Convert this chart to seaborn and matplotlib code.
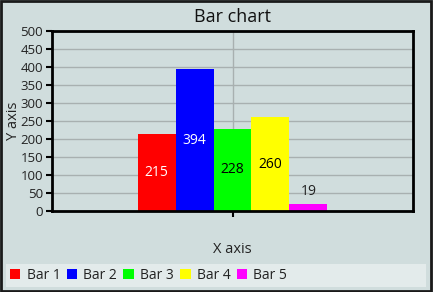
import matplotlib
matplotlib.use("Agg")
import matplotlib.pyplot as plt
from matplotlib.patches import Rectangle, Patch
import pandas as pd
import seaborn as sns

# Chart data
series_names = ["Bar 1", "Bar 2", "Bar 3", "Bar 4", "Bar 5"]
series_values = [215, 394, 228, 260, 19]
series_colors = ["#FF0000", "#0000FF", "#00FF00", "#FFFF00", "#FF00FF"]
label_colors = ["white", "white", "black", "black", "#222222"]
y_ticks = [0, 50, 100, 150, 200, 250, 300, 350, 400, 450, 500]

BG = "#D0DDDD"
LEGEND_BG = "#E3EBEB"

df = pd.DataFrame({"group": [""] * len(series_names),
                   "series": series_names,
                   "value": series_values})

sns.set_theme(style="white")
plt.rcParams["font.family"] = ["Open Sans", "DejaVu Sans"]

fig = plt.figure(figsize=(4.33, 2.92), dpi=100, facecolor=BG)
ax = fig.add_axes([52 / 433, 81 / 292, 361 / 433, 180 / 292])
ax.set_facecolor(BG)

sns.barplot(data=df, x="group", y="value", hue="series",
            palette=series_colors, hue_order=series_names,
            width=0.525, dodge=True, saturation=1, ax=ax,
            linewidth=0, legend=True)

ax.set_xlim(-0.5, 0.5)
ax.set_ylim(0, 500)
ax.set_yticks(y_ticks)
ax.set_yticklabels([str(t) for t in y_ticks], fontsize=9.5, color="#222222")
ax.set_xticks([0])
ax.set_xticklabels([""])
ax.grid(True, color="#A8B0B0", linewidth=1)
ax.set_axisbelow(True)
ax.tick_params(axis="y", direction="out", length=4, width=1.5, color="black", pad=2.5, left=True)
ax.tick_params(axis="x", direction="out", length=4, width=1.5, color="black", bottom=True)
for sp in ax.spines.values():
    sp.set_color("black")
    sp.set_linewidth(2)

# value labels
for cont, col, val in zip(ax.containers, label_colors, series_values):
    if val < 50:
        ax.bar_label(cont, labels=[str(val)], label_type="edge", padding=4,
                     color=col, fontsize=10)
    else:
        ax.bar_label(cont, labels=[str(val)], label_type="center",
                     color=col, fontsize=10)

ax.set_title("Bar chart", fontsize=13, color="#111111", y=1.075, va="center", pad=0)
ax.set_xlabel("X axis", fontsize=10.5, color="#222222")
ax.xaxis.set_label_coords(0.5, -0.215)
ax.xaxis.label.set_va("center")
ax.set_ylabel("Y axis", fontsize=10.5, color="#222222")
ax.yaxis.set_label_coords(-0.106, 0.5)
ax.yaxis.label.set_va("center")

# legend strip along the bottom
ax.get_legend().remove()
fig.patches.append(Rectangle((6 / 433, 5 / 292), 420 / 433, 23 / 292,
                             transform=fig.transFigure, facecolor=LEGEND_BG,
                             edgecolor="none", zorder=0))
handles = [Patch(facecolor=c, edgecolor="none") for c in series_colors]
fig.legend(handles, series_names, loc="center left",
           bbox_to_anchor=(10 / 433, 16.5 / 292), ncol=5, frameon=False,
           borderpad=0, borderaxespad=0,
           fontsize=10, handlelength=0.75, handleheight=0.75,
           handletextpad=0.45, columnspacing=0.45, labelcolor="#222222")

# outer frame
fig.patches.append(Rectangle((0.002, 0.003), 0.994, 0.993, transform=fig.transFigure,
                             facecolor="none", edgecolor="#1A1A1A", linewidth=2, zorder=5))

fig.savefig("out.png", dpi=100, facecolor=BG)
